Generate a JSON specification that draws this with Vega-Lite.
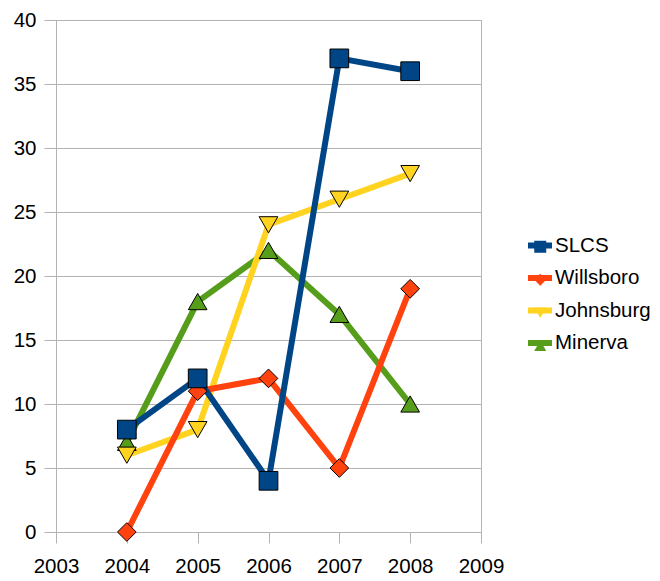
{
  "$schema": "https://vega.github.io/schema/vega-lite/v6.json",
  "width": 425,
  "height": 512,
  "autosize": {"type": "none"},
  "padding": {"left": 56, "top": 20, "right": 179, "bottom": 49},
  "background": "white",
  "config": {
    "font": "Liberation Sans",
    "view": {"stroke": "#b3b3b3", "strokeWidth": 1},
    "axis": {"labelFont": "Liberation Sans", "labelColor": "black", "labelFontSize": 20.5, "tickColor": "#b3b3b3", "domainColor": "#b3b3b3", "gridColor": "#b3b3b3", "title": null},
    "legend": {"labelFont": "Liberation Sans", "labelFontSize": 20.5, "labelColor": "black", "padding": 0}
  },
  "data": {
    "values": [
      {"series": "Minerva", "year": 2004, "value": 7},
      {"series": "Minerva", "year": 2005, "value": 18},
      {"series": "Minerva", "year": 2006, "value": 22},
      {"series": "Minerva", "year": 2007, "value": 17},
      {"series": "Minerva", "year": 2008, "value": 10},
      {"series": "Johnsburg", "year": 2004, "value": 6},
      {"series": "Johnsburg", "year": 2005, "value": 8},
      {"series": "Johnsburg", "year": 2006, "value": 24},
      {"series": "Johnsburg", "year": 2007, "value": 26},
      {"series": "Johnsburg", "year": 2008, "value": 28},
      {"series": "Willsboro", "year": 2004, "value": 0},
      {"series": "Willsboro", "year": 2005, "value": 11},
      {"series": "Willsboro", "year": 2006, "value": 12},
      {"series": "Willsboro", "year": 2007, "value": 5},
      {"series": "Willsboro", "year": 2008, "value": 19},
      {"series": "SLCS", "year": 2004, "value": 8},
      {"series": "SLCS", "year": 2005, "value": 12},
      {"series": "SLCS", "year": 2006, "value": 4},
      {"series": "SLCS", "year": 2007, "value": 37},
      {"series": "SLCS", "year": 2008, "value": 36}
    ]
  },
  "encoding": {
    "x": {
      "field": "year", "type": "quantitative",
      "scale": {"domain": [2003, 2009], "nice": false, "zero": false},
      "axis": {"values": [2003, 2004, 2005, 2006, 2007, 2008, 2009], "format": "d", "grid": false, "tickSize": 11, "labelPadding": 13, "labelFlush": false, "labelOverlap": false}
    },
    "y": {
      "field": "value", "type": "quantitative",
      "scale": {"domain": [0, 40], "nice": false},
      "axis": {"values": [0, 5, 10, 15, 20, 25, 30, 35, 40], "grid": true, "tickSize": 12, "labelPadding": 8}
    }
  },
  "layer": [
    {
      "mark": {"type": "line", "strokeWidth": 6, "strokeJoin": "round"},
      "encoding": {
        "color": {
          "field": "series", "type": "nominal",
          "sort": ["SLCS", "Willsboro", "Johnsburg", "Minerva"],
          "scale": {"range": ["#004586", "#ff420e", "#ffd320", "#579d1c"]},
          "legend": {"orient": "none", "legendX": 469, "legendY": 210.5, "title": null, "symbolType": "stroke", "symbolSize": 576, "symbolStrokeWidth": 6, "labelOffset": 0, "rowPadding": 5.5}
        }
      }
    },
    {
      "mark": {"type": "point", "filled": true, "size": 350, "stroke": "black", "strokeWidth": 1, "opacity": 1},
      "encoding": {
        "fill": {
          "field": "series", "type": "nominal",
          "scale": {"domain": ["SLCS", "Willsboro", "Johnsburg", "Minerva"], "range": ["#004586", "#ff420e", "#ffd320", "#579d1c"]},
          "legend": {"orient": "none", "legendX": 474, "legendY": 216.5, "title": null, "symbolSize": 144, "symbolStrokeColor": "black", "symbolStrokeWidth": 1, "labelExpr": "''", "rowPadding": 12}
        },
        "shape": {
          "field": "series", "type": "nominal",
          "scale": {"domain": ["SLCS", "Willsboro", "Johnsburg", "Minerva"], "range": ["square", "diamond", "triangle-down", "triangle-up"]},
          "legend": {"orient": "none", "legendX": 474, "legendY": 216.5, "title": null, "symbolSize": 144, "symbolStrokeColor": "black", "symbolStrokeWidth": 1, "labelExpr": "''", "rowPadding": 12}
        }
      }
    }
  ]
}
